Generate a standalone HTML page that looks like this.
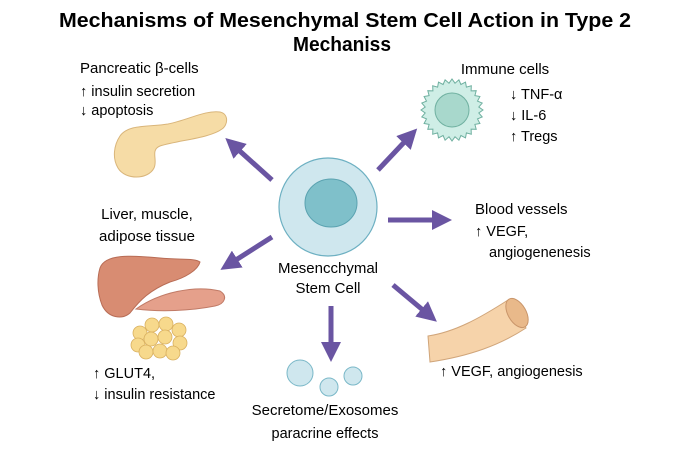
<!DOCTYPE html>
<html><head><meta charset="utf-8"><style>
html,body{margin:0;padding:0;background:#fff;}
svg{display:block;font-family:"Liberation Sans",sans-serif;}
</style></head><body>
<svg width="685" height="456" viewBox="0 0 685 456" xmlns="http://www.w3.org/2000/svg">
<defs>
<marker id="ah" markerWidth="4" markerHeight="4" refX="2.2" refY="2" orient="auto" markerUnits="strokeWidth">
<path d="M0,0 L4,2 L0,4 z" fill="#6a55a2"/></marker>
</defs>
<text x="345" y="27" text-anchor="middle" font-size="20" font-weight="bold" textLength="572" lengthAdjust="spacingAndGlyphs">Mechanisms of Mesenchymal Stem Cell Action in Type 2</text>
<text x="342" y="51" text-anchor="middle" font-size="20" font-weight="bold" textLength="98" lengthAdjust="spacingAndGlyphs">Mechaniss</text>

<g stroke="#6a55a2" stroke-width="5" fill="none" marker-end="url(#ah)">
<line x1="272" y1="180" x2="232" y2="144"/>
<line x1="378" y1="170" x2="411" y2="135"/>
<line x1="388" y1="220" x2="443" y2="220"/>
<line x1="272" y1="237" x2="228" y2="265"/>
<line x1="331" y1="306" x2="331" y2="353"/>
<line x1="393" y1="285" x2="430" y2="316"/>
</g>

<circle cx="328" cy="207" r="49" fill="#cfe7ee" stroke="#6db0c2" stroke-width="1.2"/>
<ellipse cx="331" cy="203" rx="26" ry="24" fill="#7fc0ca" stroke="#5aa2b0" stroke-width="1"/>
<text x="328" y="273" text-anchor="middle" font-size="15">Mesencchymal</text>
<text x="328" y="293" text-anchor="middle" font-size="15">Stem Cell</text>

<text x="80" y="73" font-size="15">Pancreatic β-cells</text>
<text x="80" y="96" font-size="14.5">↑ insulin secretion</text>
<text x="80" y="115" font-size="14.5">↓ apoptosis</text>
<path d="M120,136 C128,124 150,127 168,124 C188,120 205,110 220,112 C229,114 228,125 222,129 C210,138 180,140 160,146 C150,150 158,160 154,168 C148,180 125,180 118,168 C112,158 114,145 120,136 Z" fill="#f6dca6" stroke="#d9b57a" stroke-width="1"/>

<text x="147" y="219" text-anchor="middle" font-size="15">Liver, muscle,</text>
<text x="147" y="241" text-anchor="middle" font-size="15">adipose tissue</text>
<path d="M100,268 C105,254 130,255 160,258 C180,260 195,258 200,262 C198,270 185,278 170,282 C150,290 140,300 130,313 C122,320 108,318 102,305 C97,292 97,278 100,268 Z" fill="#d88c72" stroke="#b86c55" stroke-width="1"/>
<path d="M136,309 C160,292 195,285 220,291 C228,296 225,304 215,306 C190,311 160,312 136,309 Z" fill="#e5a08b" stroke="#c07a66" stroke-width="1"/>
<g fill="#f7d98c" stroke="#d9b060" stroke-width="0.8">
<circle cx="140" cy="333" r="7"/><circle cx="152" cy="325" r="7"/><circle cx="166" cy="324" r="7"/><circle cx="179" cy="330" r="7"/>
<circle cx="138" cy="345" r="7"/><circle cx="151" cy="339" r="7"/><circle cx="165" cy="337" r="7"/><circle cx="180" cy="343" r="7"/>
<circle cx="146" cy="352" r="7"/><circle cx="160" cy="351" r="7"/><circle cx="173" cy="353" r="7"/>
</g>
<text x="93" y="378" font-size="14.5">↑ GLUT4,</text>
<text x="93" y="399" font-size="14.5">↓ insulin resistance</text>

<g fill="#cfe7ee" stroke="#7ab8c8" stroke-width="1">
<circle cx="300" cy="373" r="13"/><circle cx="329" cy="387" r="9"/><circle cx="353" cy="376" r="9"/>
</g>
<text x="325" y="415" text-anchor="middle" font-size="15">Secretome/Exosomes</text>
<text x="325" y="438" text-anchor="middle" font-size="14.5">paracrine effects</text>

<text x="505" y="74" text-anchor="middle" font-size="15">Immune cells</text>
<path id="spk" d="" fill="#cfeee6" stroke="#6fb0a0" stroke-width="1"/>
<circle cx="452" cy="110" r="17" fill="#a8d8cc" stroke="#6fb0a0" stroke-width="1"/>
<text x="510" y="99" font-size="14.5">↓ TNF-α</text>
<text x="510" y="120" font-size="14.5">↓ IL-6</text>
<text x="510" y="141" font-size="14.5">↑ Tregs</text>

<text x="475" y="214" font-size="15">Blood vessels</text>
<text x="475" y="236" font-size="14.5">↑ VEGF,</text>
<text x="489" y="257" font-size="14.5">angiogenenesis</text>
<path d="M428,336 C455,332 480,318 508,300 L526,328 C500,345 470,356 430,362 Z" fill="#f6d3aa" stroke="#d0a57a" stroke-width="1"/>
<ellipse cx="517" cy="313" rx="9" ry="16" transform="rotate(-30 517 313)" fill="#e9b98a" stroke="#c9956a" stroke-width="1"/>
<text x="440" y="376" font-size="14.5">↑ VEGF, angiogenesis</text>
</svg>
<script>
(function(){var p=document.getElementById('spk');var d='';var n=28,cx=452,cy=110;
for(var i=0;i<n*2;i++){var a=i*Math.PI/n;var r=i%2?27:31;d+=(i?'L':'M')+(cx+r*Math.cos(a)).toFixed(1)+','+(cy+r*Math.sin(a)).toFixed(1);}
p.setAttribute('d',d+'Z');})();
</script>
</body></html>
